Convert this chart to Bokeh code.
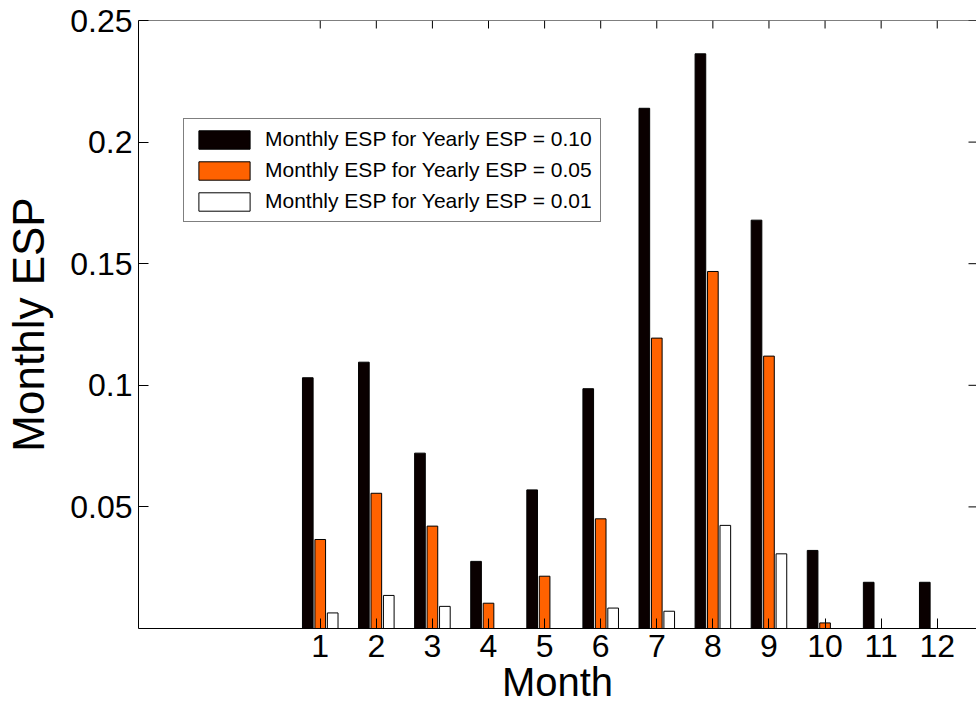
import math
from bokeh.plotting import figure
from bokeh.models import ColumnDataSource, FixedTicker, Range1d, Legend, LegendItem, Span
from bokeh.transform import dodge
from bokeh.embed import file_html
from bokeh.resources import INLINE

months = list(range(1, 13))
esp_010 = [0.1031, 0.1095, 0.0721, 0.0276, 0.0570, 0.0986, 0.2139, 0.2363, 0.1679, 0.0321, 0.0190, 0.0190]
esp_005 = [0.0366, 0.0556, 0.0421, 0.0104, 0.0215, 0.0451, 0.1194, 0.1468, 0.1120, 0.0023, 0.0, 0.0]
esp_001 = [0.0064, 0.0136, 0.0091, 0.0, 0.0, 0.0084, 0.0071, 0.0424, 0.0307, 0.0, 0.0, 0.0]
y_ticks = [0.05, 0.1, 0.15, 0.2, 0.25]
y_tick_labels = ["0.05", "0.1", "0.15", "0.2", "0.25"]
series_labels = ["Monthly ESP for Yearly ESP = 0.10",
                 "Monthly ESP for Yearly ESP = 0.05",
                 "Monthly ESP for Yearly ESP = 0.01"]
x_title = "Month"
y_title = "Monthly ESP"

src = ColumnDataSource(dict(month=months, a=esp_010, b=esp_005, c=esp_001))

FONT = "Liberation Sans"

x_range = Range1d(-2.24, 12.70)
y_range = Range1d(0, 0.25)

p = figure(width=976, height=715, x_range=x_range, y_range=y_range,
           output_backend="svg", toolbar_location=None,
           min_border_left=138, min_border_right=0, min_border_top=20, min_border_bottom=87)
p.outline_line_color = None
p.grid.visible = False
p.background_fill_color = "white"
p.border_fill_color = "white"

w = 0.19
r1 = p.vbar(x=dodge("month", -0.222, range=p.x_range), top="a", width=w, source=src,
            fill_color="#0a0000", line_color="black", line_width=1)
r2 = p.vbar(x=dodge("month", 0.0, range=p.x_range), top="b", width=w, source=src,
            fill_color="#ff6200", line_color="black", line_width=1)
r3 = p.vbar(x=dodge("month", 0.222, range=p.x_range), top="c", width=w, source=src,
            fill_color="white", line_color="black", line_width=1)

def style_axis(ax, tick_len):
    ax.major_tick_in = tick_len
    ax.major_tick_out = 0
    ax.minor_tick_in = 0
    ax.minor_tick_out = 0
    ax.axis_line_color = "black"
    ax.axis_line_width = 1
    ax.major_tick_line_color = "black"
    ax.major_label_text_font = FONT
    ax.major_label_text_color = "black"
    ax.axis_label_text_font = FONT
    ax.axis_label_text_font_style = "normal"
    ax.axis_label_text_color = "black"

xa = p.xaxis[0]
xa.ticker = FixedTicker(ticks=months)
style_axis(xa, 10)
xa.major_label_text_font_size = "32px"
xa.major_label_standoff = 6
xa.axis_label = x_title
xa.axis_label_text_font_size = "40px"
xa.axis_label_standoff = 0

ya = p.yaxis[0]
ya.ticker = FixedTicker(ticks=y_ticks)
ya.major_label_overrides = {t: s for t, s in zip(y_ticks, y_tick_labels)}
style_axis(ya, 10)
ya.major_label_text_font_size = "32px"
ya.major_label_standoff = 6
ya.axis_label = y_title
ya.axis_label_text_font_size = "44px"
ya.axis_label_standoff = 14

# top box edge and inward ticks on top/right edges (MATLAB-style box)
p.add_layout(Span(location=y_range.end, dimension="width", line_color="black", line_width=1))
p.ray(x=months, y=[y_range.end] * len(months), length=8, length_units="screen",
      angle=-math.pi / 2, line_color="black", line_width=1)
p.ray(x=[x_range.end] * len(y_ticks), y=y_ticks, length=8, length_units="screen",
      angle=math.pi, line_color="black", line_width=1)

legend = Legend(items=[LegendItem(label=series_labels[0], renderers=[r1]),
                       LegendItem(label=series_labels[1], renderers=[r2]),
                       LegendItem(label=series_labels[2], renderers=[r3])],
                location=(45, 406), margin=0, padding=8, spacing=7,
                glyph_width=64, glyph_height=23, label_standoff=9,
                label_text_font=FONT, label_text_font_size="21px", label_text_color="black",
                border_line_color="black", border_line_width=1, background_fill_color="white",
                background_fill_alpha=1.0)
p.add_layout(legend, "center")

open("out.html", "w").write(file_html(p, INLINE))
